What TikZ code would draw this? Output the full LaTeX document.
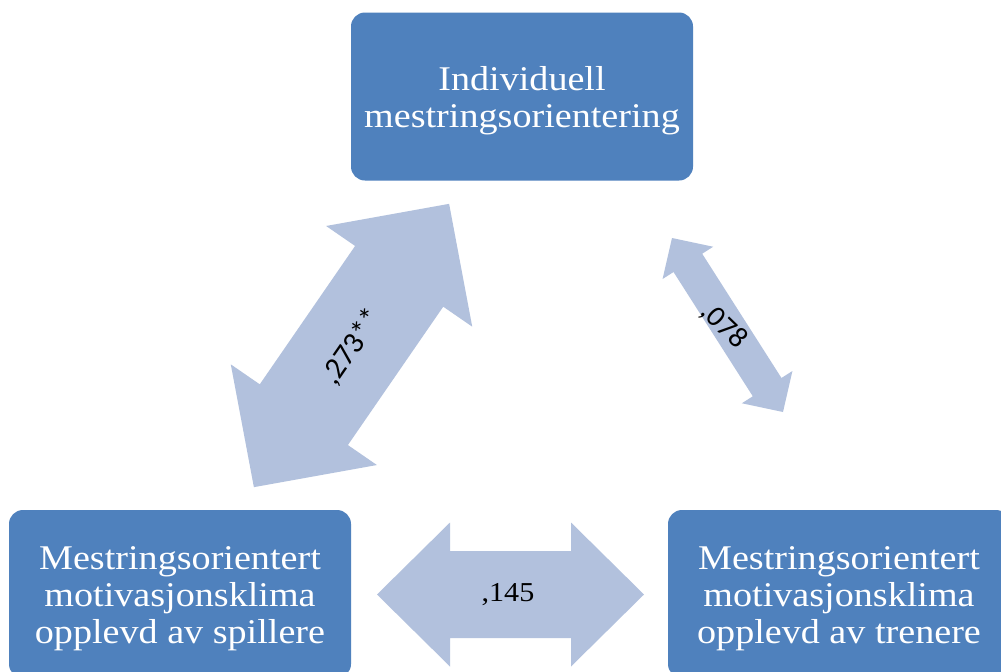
\documentclass[tikz,border=0pt]{standalone}
\usepackage{fontspec}
\setmainfont{Liberation Serif}
\newfontfamily\boxfont[FakeStretch=1.1]{Liberation Serif}
\newfontfamily\calfont{Carlito}
\usetikzlibrary{calc}
\definecolor{boxblue}{RGB}{79,129,189}
\definecolor{arrowblue}{RGB}{178,193,221}
\newcommand{\mydblarrow}[7]{%
  \pgfmathsetmacro\dbA{#4-#5}%
  \fill[arrowfill] ($(#1)+#4*(#2)$) -- ($(#1)+\dbA*(#2)+#6*(#3)$) -- ($(#1)+\dbA*(#2)+#7*(#3)$)
    -- ($(#1)-\dbA*(#2)+#7*(#3)$) -- ($(#1)-\dbA*(#2)+#6*(#3)$) -- ($(#1)-#4*(#2)$)
    -- ($(#1)-\dbA*(#2)-#6*(#3)$) -- ($(#1)-\dbA*(#2)-#7*(#3)$)
    -- ($(#1)+\dbA*(#2)-#7*(#3)$) -- ($(#1)+\dbA*(#2)-#6*(#3)$) -- cycle;}
\tikzset{
  box/.style={fill=boxblue, draw=none, rounded corners=10.5pt, minimum width=256.5pt,
    minimum height=126pt, inner sep=0pt},
  boxtext/.style={inner sep=0pt, align=center, text=white,
    font=\boxfont\fontsize{26}{27.75}\selectfont},
  arrowfill/.style={fill=arrowblue, draw=none},
  rlabel/.style={inner sep=0pt, text=black, font=\calfont\fontsize{23}{26}\selectfont},
  hlabel/.style={inner sep=0pt, text=black, font=\boxfont\fontsize{20.5}{24}\selectfont}
}
\begin{document}
\begin{tikzpicture}[x=0.75pt, y=-0.75pt]
\useasboundingbox (0,0) rectangle (1001,672);
\clip (0,0) rectangle (1001,672);
\fill[white] (0,0) rectangle (1001,672);
% boxes
\node[box] (top) at (522,96.5) {};
\node[box] (bl) at (180,594) {};
\node[box] (br) at (839,594) {};
\node[boxtext] (topt) at ($(top.center)+(0,4)$) {Individuell\\mestringsorientering};
\node[boxtext] (blt) at ($(bl.center)+(0,5)$) {Mestringsorientert\\motivasjonsklima\\opplevd av spillere};
\node[boxtext] (brt) at ($(br.center)+(0,5)$) {Mestringsorientert\\motivasjonsklima\\opplevd av trenere};
% arrow frames
\coordinate (cA) at (351.5,345.5);
\coordinate (uA) at (0.5675,-0.8236);
\coordinate (vA) at (0.8236,0.5675);
\coordinate (cB) at (727.5,325);
\coordinate (uB) at (-0.5378,-0.8430);
\coordinate (vB) at (0.8430,-0.5378);
\coordinate (cC) at (510.5,594.5);
\coordinate (uC) at (1,0);
\coordinate (vC) at (0,1);
\mydblarrow{cA}{uA}{vA}{172}{88}{88.7}{53.5}
\mydblarrow{cB}{uB}{vB}{103.2}{29.5}{30}{17}
\mydblarrow{cC}{uC}{vC}{133.5}{73}{72}{43.5}
% labels
\node[rlabel, rotate=55.4] (lA) at (352,347) {,273**};
\node[rlabel, rotate=-44, font=\calfont\fontsize{22}{26}\selectfont] (lB) at (724,326) {,078};
\node[hlabel] (lC) at (508,595) {,145};
\end{tikzpicture}
\end{document}
